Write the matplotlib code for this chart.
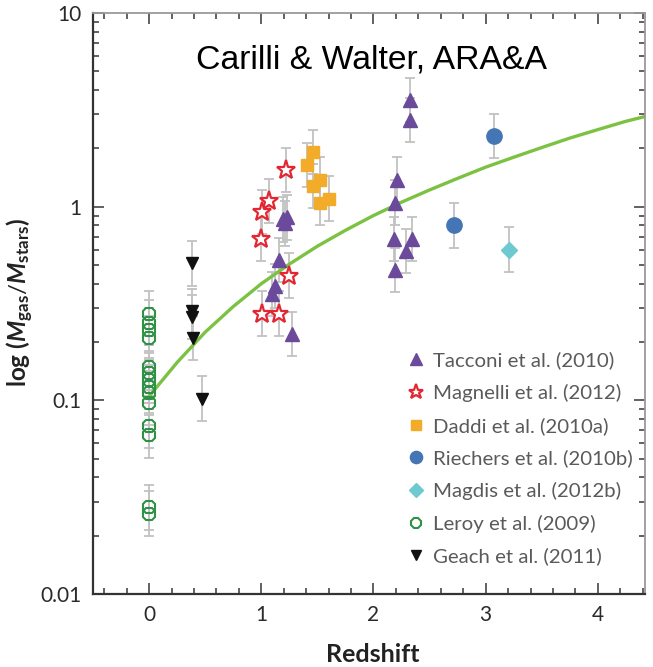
import matplotlib
matplotlib.use("Agg")
import matplotlib.pyplot as plt
import numpy as np

plt.rcParams.update({
    "mathtext.fontset": "custom",
    "mathtext.rm": "Lato",
    "mathtext.it": "Lato:italic",
    "mathtext.bf": "Lato:bold",
    "mathtext.bfit": "Lato:bold:italic",
})

# ---- data -------------------------------------------------------------
tacconi_z = [1.19, 1.23, 1.21, 1.16, 1.12, 1.10, 1.27,
             2.33, 2.33, 2.21, 2.19, 2.18, 2.34, 2.29, 2.19]
tacconi_f = [0.86, 0.88, 0.82, 0.53, 0.39, 0.355, 0.22,
             3.56, 2.81, 1.38, 1.05, 0.68, 0.68, 0.59, 0.47]

magnelli_z = [1.22, 1.07, 1.01, 1.00, 1.25, 1.01, 1.16]
magnelli_f = [1.55, 1.07, 0.94, 0.68, 0.44, 0.28, 0.28]

daddi_z = [1.46, 1.41, 1.52, 1.46, 1.60, 1.52]
daddi_f = [1.92, 1.64, 1.38, 1.28, 1.10, 1.05]

riechers_z = [3.07, 2.72]
riechers_f = [2.32, 0.80]

magdis_z = [3.21]
magdis_f = [0.60]

leroy_z = [0.0] * 14
leroy_f = [0.28, 0.252, 0.23, 0.21, 0.148, 0.138, 0.127, 0.117,
           0.109, 0.097, 0.074, 0.066, 0.028, 0.026]

geach_z = [0.38, 0.38, 0.38, 0.39, 0.47]
geach_f = [0.51, 0.29, 0.27, 0.21, 0.102]

# uncertainty on each point, in dex
err_dex = 0.115

# gas fraction trend line
trend_z = [0.0, 0.25, 0.5, 0.75, 1.0, 1.25, 1.5, 1.75, 2.0, 2.25,
           2.5, 2.75, 3.0, 3.25, 3.5, 3.75, 4.0, 4.25, 4.42]
trend_f = [0.105, 0.157, 0.225, 0.305, 0.40, 0.505, 0.625, 0.755, 0.90, 1.055,
           1.22, 1.40, 1.60, 1.80, 2.02, 2.26, 2.50, 2.76, 2.92]

x_ticks = [0, 1, 2, 3, 4]
y_ticks = [0.01, 0.1, 1, 10]
y_tick_labels = ["0.01", "0.1", "1", "10"]

series = [
    ("Tacconi et al. (2010)", tacconi_z, tacconi_f,
     dict(marker="^", ms=10, color="#6b4a9b", mfc="#6b4a9b", mec="#6b4a9b")),
    ("Magnelli et al. (2012)", magnelli_z, magnelli_f,
     dict(marker="*", ms=14, color="#e32631", mfc="white", mec="#e32631", mew=1.6)),
    ("Daddi et al. (2010a)", daddi_z, daddi_f,
     dict(marker="s", ms=8.5, color="#f2ac2a", mfc="#f2ac2a", mec="#f2ac2a")),
    ("Riechers et al. (2010b)", riechers_z, riechers_f,
     dict(marker="o", ms=11, color="#4475b4", mfc="#4475b4", mec="#4475b4")),
    ("Magdis et al. (2012b)", magdis_z, magdis_f,
     dict(marker="D", ms=8.5, color="#6ec9d0", mfc="#6ec9d0", mec="#6ec9d0")),
    ("Leroy et al. (2009)", leroy_z, leroy_f,
     dict(marker="8", ms=10, color="#2e9146", mfc="none", mec="#2e9146", mew=1.5)),
    ("Geach et al. (2011)", geach_z, geach_f,
     dict(marker="v", ms=9, color="#111111", mfc="#111111", mec="#111111")),
]

# ---- figure -----------------------------------------------------------
W, H = 653, 667
fig = plt.figure(figsize=(W / 100, H / 100), dpi=100)
ax = fig.add_axes([0.1424, 0.1094, 0.8453, 0.8711])
ax.set_yscale("log")
ax.set_xlim(-0.5, 4.42)
ax.set_ylim(0.01, 10)

# error bars first, in light grey
for _, z, f, _ in series:
    f = np.asarray(f)
    lo = f - f / 10 ** err_dex
    hi = f * 10 ** err_dex - f
    ax.errorbar(z, f, yerr=[lo, hi], fmt="none", ecolor="#c2c2c2",
                elinewidth=1.3, capsize=3.5, capthick=1.3, zorder=1)

ax.plot(trend_z, trend_f, color="#7cc242", lw=2.4, zorder=2,
        solid_capstyle="butt", solid_joinstyle="round")

handles = []
for label, z, f, st in series:
    h, = ax.plot(z, f, linestyle="none", label=label, zorder=3, **st)
    handles.append(h)

leg = ax.legend(handles=handles, loc="lower right",
                bbox_to_anchor=(1.0, 0.028), frameon=False,
                handlelength=1.0, handletextpad=0.35, labelspacing=0.72,
                borderaxespad=0.2, markerscale=0.8,
                prop=dict(family="Lato", size=14.7))
for t in leg.get_texts():
    t.set_color("#5a5a5a")

# axes styling
ax.set_xticks(x_ticks)
ax.set_xticklabels([str(v) for v in x_ticks])
ax.set_xticks(np.arange(-0.4, 4.42, 0.2), minor=True)
ax.set_yticks(y_ticks)
ax.set_yticklabels(y_tick_labels)
ax.yaxis.set_minor_locator(matplotlib.ticker.LogLocator(base=10, subs=np.arange(2, 10)))
ax.yaxis.set_minor_formatter(matplotlib.ticker.NullFormatter())

ax.tick_params(which="both", direction="in", top=True, right=True,
               color="#555555", width=1.3)
ax.tick_params(which="major", length=8, labelsize=15, labelcolor="#2a2a2a", pad=8)
ax.tick_params(which="minor", length=4.5)
for lab in ax.get_xticklabels() + ax.get_yticklabels():
    lab.set_family("Lato")

for side in ("left", "bottom"):
    ax.spines[side].set_color("#333333")
    ax.spines[side].set_linewidth(1.6)
for side in ("top", "right"):
    ax.spines[side].set_color("#9a9a9a")
    ax.spines[side].set_linewidth(1.3)

fig.text(373 / W, 1 - 655 / H, "Redshift", ha="center", va="center",
         fontsize=18, fontweight="bold", family="Lato", color="#222222")
fig.text(20 / W, 1 - 302 / H,
         r"log ($\mathbfit{M}_{\mathbf{gas}}/\mathbfit{M}_{\mathbf{stars}}$)",
         rotation=90, ha="center", va="center",
         fontsize=17.5, fontweight="bold", family="Lato", color="#222222")

ax.text(0.504, 0.919, "Carilli & Walter, ARA&A", transform=ax.transAxes,
        ha="center", va="center", fontsize=24.3, family="Liberation Sans",
        color="black")

fig.savefig("out.png", dpi=100)
